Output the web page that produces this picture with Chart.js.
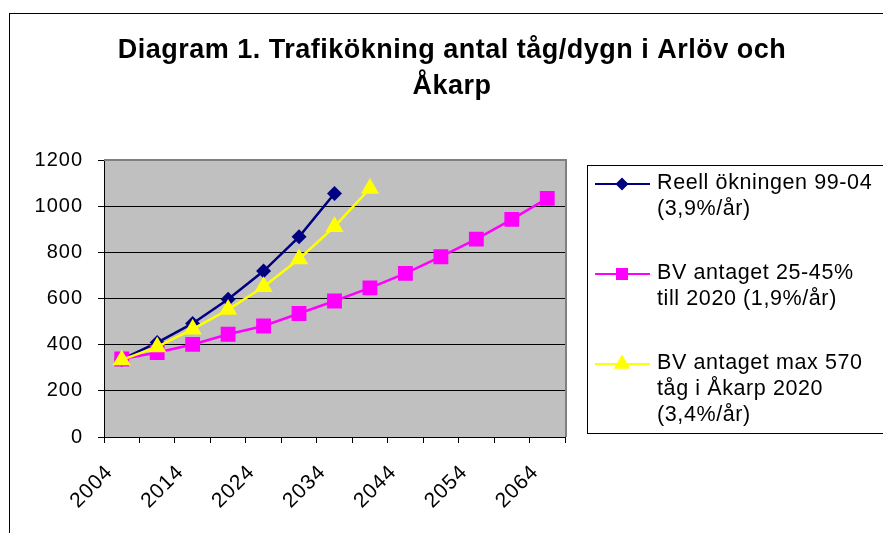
<!DOCTYPE html>
<html lang="sv">
<head>
<meta charset="utf-8">
<title>Diagram 1. Trafikökning antal tåg/dygn i Arlöv och Åkarp</title>
<script src="https://cdn.jsdelivr.net/npm/chart.js@4.4.1/dist/chart.umd.min.js"></script>
<style>
  html, body { margin: 0; padding: 0; background: #fff; }
  canvas { display: block; }
</style>
</head>
<body>
<canvas id="trafikChart" width="883" height="533"></canvas>
<script>
// Kategorier: vart femte år, etikett vid vartannat
const years = ["2004", "2009", "2014", "2019", "2024", "2029", "2034", "2039", "2044", "2049", "2054", "2059", "2064"];

// Antal tåg per dygn
const reellOkning = [336, 409, 492, 597, 719, 867, 1055];
const bvAntaget = [338, 366, 401, 445, 481, 535, 589, 646, 709, 781, 857, 943, 1034];
const bvMax570 = [334, 390, 467, 552, 651, 771, 911, 1077];

const seriesNames = [
    ["Reell ökningen 99-04", "(3,9%/år)"],
    ["BV antaget 25-45%", "till 2020 (1,9%/år)"],
    ["BV antaget max 570", "tåg i Åkarp 2020", "(3,4%/år)"],
];
const titleLines = ["Diagram 1. Trafikökning antal tåg/dygn i Arlöv och", "Åkarp"];

const FONT = '"Liberation Sans", Arial, sans-serif';
Chart.defaults.font.family = FONT;
Chart.defaults.color = "#000";

// Excel-liknande ram, grå plotyta, titel och förklaring
const excelLook = {
    id: "excelLook",
    beforeDraw(chart) {
        const { ctx, chartArea: a, width, height } = chart;
        ctx.save();
        ctx.fillStyle = "#fff";
        ctx.fillRect(0, 0, width, height);
        ctx.strokeStyle = "#000";
        ctx.lineWidth = 1;
        ctx.strokeRect(9.5, 13.5, width, height);
        ctx.fillStyle = "#c0c0c0";
        ctx.fillRect(a.left, a.top, a.right - a.left, a.bottom - a.top);
        ctx.restore();
        ctx.letterSpacing = "1px";
    },
    beforeDatasetsDraw(chart) {
        const { ctx, chartArea: a } = chart;
        ctx.save();
        ctx.strokeStyle = "#808080";
        ctx.lineWidth = 2;
        ctx.beginPath();
        ctx.moveTo(a.left, a.top);
        ctx.lineTo(a.right + 1, a.top);
        ctx.lineTo(a.right + 1, a.bottom);
        ctx.stroke();
        ctx.restore();
    },
    afterDraw(chart) {
        const ctx = chart.ctx;
        ctx.save();

        // titel
        ctx.letterSpacing = "0.5px";
        ctx.font = `bold 27px ${FONT}`;
        ctx.fillStyle = "#000";
        ctx.textAlign = "center";
        ctx.textBaseline = "alphabetic";
        ctx.fillText(titleLines[0], 452, 58);
        ctx.fillText(titleLines[1], 452, 94);

        // förklaring
        ctx.letterSpacing = "0.6px";
        ctx.strokeStyle = "#000";
        ctx.lineWidth = 1;
        ctx.strokeRect(587.5, 165.5, 400, 268);
        const rowY = [183, 273, 363];
        const legendRadius = [6.5, 8.5, 9.5];
        chart.data.datasets.forEach((ds, i) => {
            const y = rowY[i] + 1;
            ctx.strokeStyle = ds.borderColor;
            ctx.lineWidth = 2;
            ctx.beginPath();
            ctx.moveTo(595, y);
            ctx.lineTo(650, y);
            ctx.stroke();
            ctx.fillStyle = ds.backgroundColor;
            Chart.helpers.drawPoint(ctx, { pointStyle: ds.pointStyle, radius: legendRadius[i], rotation: 0, borderWidth: 0 }, 622, y);
            ctx.fillStyle = "#000";
            ctx.font = `21.5px ${FONT}`;
            ctx.textAlign = "left";
            ctx.textBaseline = "middle";
            ds.label.forEach((t, j) => ctx.fillText(t, 657, rowY[i] + j * 26));
        });
        ctx.restore();
    },
};

const ctx = document.getElementById("trafikChart").getContext("2d");
const chart = new Chart(ctx, {
    type: "line",
    data: {
        labels: years,
        datasets: [
            {
                label: seriesNames[0],
                data: reellOkning,
                order: 3,
                borderColor: "#000080",
                backgroundColor: "#000080",
                borderWidth: 2.5,
                pointStyle: "rectRot",
                pointRadius: 7.5,
                pointBorderWidth: 0,
            },
            {
                label: seriesNames[1],
                data: bvAntaget,
                order: 2,
                borderColor: "#ff00ff",
                backgroundColor: "#ff00ff",
                borderWidth: 2.5,
                pointStyle: "rect",
                pointRadius: 10.5,
                pointBorderWidth: 0,
            },
            {
                label: seriesNames[2],
                data: bvMax570,
                order: 1,
                borderColor: "#ffff00",
                backgroundColor: "#ffff00",
                borderWidth: 2.5,
                pointStyle: "triangle",
                pointRadius: 10.5,
                pointBorderWidth: 0,
            },
        ],
    },
    options: {
        responsive: false,
        animation: false,
        devicePixelRatio: 1,
        layout: { padding: { top: 160, right: 318, bottom: 0, left: 0 } },
        plugins: {
            legend: { display: false },
            title: { display: false },
            tooltip: { enabled: false },
        },
        scales: {
            x: {
                type: "category",
                offset: true,
                grid: { offset: true, drawOnChartArea: false, tickLength: 6, tickColor: "#000" },
                border: { color: "#000", width: 1 },
                ticks: {
                    autoSkip: false,
                    minRotation: 45,
                    maxRotation: 45,
                    padding: 17,
                    labelOffset: -12,
                    font: { size: 21 },
                    color: "#000",
                    callback(value, index) {
                        return index % 2 === 0 ? this.getLabelForValue(value) : "";
                    },
                },
                afterFit(scale) {
                    scale.height = 96;
                },
            },
            y: {
                min: 0,
                max: 1200,
                ticks: {
                    stepSize: 200,
                    padding: 15,
                    font: { size: 20 },
                    color: "#000",
                    callback: (v) => String(v),
                },
                grid: {
                    color: (c) => (c.tick && c.tick.value === 1200 ? "rgba(0,0,0,0)" : "#000"),
                    tickColor: "#000",
                    tickLength: 6,
                },
                border: { color: "#000", width: 1 },
                afterFit(scale) {
                    scale.width = 104;
                },
            },
        },
    },
    plugins: [excelLook],
});
</script>
</body>
</html>
